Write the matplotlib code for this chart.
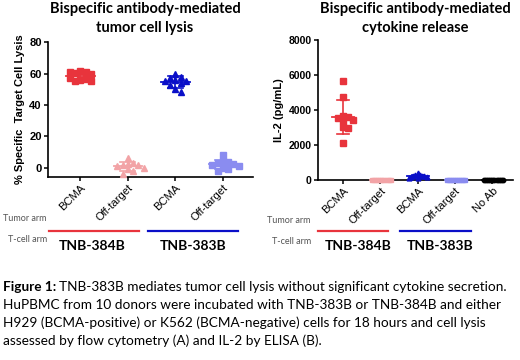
import numpy as np
import matplotlib
matplotlib.use("Agg")
import matplotlib.pyplot as plt
from matplotlib.lines import Line2D

plt.rcParams["font.family"] = ["Liberation Sans", "DejaVu Sans"]

# ---- data ----
lysis_labels = ["BCMA", "Off-target", "BCMA", "Off-target"]
lysis_384_bcma = [61.5, 61, 60.5, 60, 61, 56, 56.5, 55.5, 57, 55]
lysis_384_off = [6, 3, 2.5, 2, 1.5, 1, 0, -1, -2, -4]
lysis_383_bcma = [60, 58, 57, 56, 55.5, 55, 54, 53, 50, 48]
lysis_383_off = [8, 4, 3.5, 3, 2.5, 2, 1, 0, -1, -2]

il2_labels = ["BCMA", "Off-target", "BCMA", "Off-target", "No Ab"]
il2_384_bcma = [5670, 4760, 3650, 3600, 3550, 3450, 3350, 3000, 2950, 2130]
il2_384_off = [10, 5, 0, 0, 0, 0, 0, 5, 10, 0]
il2_383_bcma = [380, 300, 260, 240, 220, 200, 180, 160, 140, 120]
il2_383_off = [20, 15, 10, 10, 5, 5, 0, 0, 0, 0]
il2_noab = [0, 0, 0, 0, 0, 0, 0, 0, 0, 0]

RED = "#E8343C"
PINK = "#F2A3A6"
BLUE = "#0A0FC8"
LBLUE = "#8A8CF0"


def swarm(vals, ytol, step):
    """simple beeswarm offsets so points don't sit on top of each other"""
    placed = []
    offs = []
    for v in vals:
        k = 0
        while True:
            o = ((k + 1) // 2) * step * (1 if k % 2 else -1)
            if all(abs(v - pv) >= ytol or abs(o - po) >= step * 0.9 for pv, po in placed):
                break
            k += 1
        placed.append((v, o))
        offs.append(o)
    return np.array(offs)


def draw_group(ax, x, vals, color, marker, ytol, step, ms, wmean, wsd):
    vals = np.array(vals, dtype=float)
    xs = x + swarm(vals, ytol, step)
    ax.plot(xs, vals, ls="none", marker=marker, color=color, ms=ms,
            mec=color, clip_on=False, zorder=3)
    m = vals.mean()
    sd = vals.std(ddof=1)
    ax.plot([x - wmean, x + wmean], [m, m], color=color, lw=1.3, zorder=4, clip_on=False)
    ax.plot([x, x], [m - sd, m + sd], color=color, lw=1.2, zorder=4, clip_on=False)
    for yy in (m - sd, m + sd):
        ax.plot([x - wsd, x + wsd], [yy, yy], color=color, lw=1.2, zorder=4, clip_on=False)


def style_axes(ax, ysize):
    for s in ("top", "right"):
        ax.spines[s].set_visible(False)
    for s in ("left", "bottom"):
        ax.spines[s].set_linewidth(1.2)
    ax.tick_params(axis="y", labelsize=ysize, width=1.1, length=3, pad=1.5)
    ax.tick_params(axis="x", labelsize=8, width=1.1, length=3, pad=1)
    for t in ax.get_yticklabels():
        t.set_fontweight("bold")


fig = plt.figure(figsize=(5.2, 3.6), dpi=100)

# ---- panel A: lysis ----
ax1 = fig.add_axes([0.0923, 0.508, 0.394, 0.375])
draw_group(ax1, 0, lysis_384_bcma, RED, "s", 3.2, 0.11, 4.2, 0.3, 0.16)
draw_group(ax1, 1, lysis_384_off, PINK, "^", 3.2, 0.11, 4.2, 0.3, 0.16)
draw_group(ax1, 2, lysis_383_bcma, BLUE, "^", 3.2, 0.11, 4.2, 0.3, 0.16)
draw_group(ax1, 3, lysis_383_off, LBLUE, "s", 3.2, 0.11, 4.2, 0.3, 0.16)
ax1.set_xlim(-0.68, 3.63)
ax1.set_ylim(-6, 80)
ax1.set_yticks([0, 20, 40, 60, 80])
ax1.set_xticks(range(len(lysis_labels)))
ax1.set_xticklabels(lysis_labels, rotation=45, ha="right", rotation_mode="anchor")
ax1.set_ylabel("% Specific  Target Cell Lysis", fontsize=8, fontweight="bold", labelpad=3)
style_axes(ax1, 8)

# ---- panel B: IL-2 ----
ax2 = fig.add_axes([0.6115, 0.5, 0.375, 0.389])
draw_group(ax2, 0, il2_384_bcma, RED, "s", 260, 0.13, 4.5, 0.3, 0.16)
draw_group(ax2, 1, il2_384_off, PINK, "s", 260, 0.055, 3, 0.28, 0.14)
draw_group(ax2, 2, il2_383_bcma, BLUE, "^", 260, 0.06, 3.5, 0.3, 0.16)
draw_group(ax2, 3, il2_383_off, LBLUE, "s", 260, 0.055, 3.2, 0.28, 0.14)
draw_group(ax2, 4, il2_noab, "black", "o", 260, 0.055, 3.2, 0.28, 0.14)
ax2.set_xlim(-0.67, 4.55)
ax2.set_ylim(0, 8000)
ax2.set_yticks([0, 2000, 4000, 6000, 8000])
ax2.set_xticks(range(len(il2_labels)))
ax2.set_xticklabels(il2_labels, rotation=45, ha="right", rotation_mode="anchor")
ax2.set_ylabel("IL-2 (pg/mL)", fontsize=8, fontweight="bold", labelpad=3)
style_axes(ax2, 7.5)

# ---- titles ----
title_font = ["Lato", "DejaVu Sans"]
fig.text(145 / 520, 1 - 13 / 360, "Bispecific antibody-mediated", family=title_font,
         fontsize=10.5, fontweight="bold", ha="center", va="baseline")
fig.text(145 / 520, 1 - 32 / 360, "tumor cell lysis", family=title_font,
         fontsize=10.5, fontweight="bold", ha="center", va="baseline")
fig.text(415 / 520, 1 - 13 / 360, "Bispecific antibody-mediated", family=title_font,
         fontsize=10.5, fontweight="bold", ha="center", va="baseline")
fig.text(415 / 520, 1 - 32 / 360, "cytokine release", family=title_font,
         fontsize=10.5, fontweight="bold", ha="center", va="baseline")

# ---- arm annotations under the panels ----
arm_color = "#555555"
arm_font = ["Lato", "DejaVu Sans"]
fig.text(3 / 520, 1 - 219 / 360, "Tumor arm", fontsize=6.5, color=arm_color, va="center",
         family=arm_font)
fig.text(8 / 520, 1 - 240 / 360, "T-cell arm", fontsize=6.5, color=arm_color, va="center",
         family=arm_font)
fig.text(267 / 520, 1 - 220 / 360, "Tumor arm", fontsize=6.5, color=arm_color, va="center",
         family=arm_font)
fig.text(272 / 520, 1 - 242 / 360, "T-cell arm", fontsize=6.5, color=arm_color, va="center",
         family=arm_font)

groups = [
    (49, 139, 92, RED, "TNB-384B"),
    (148, 238, 193, BLUE, "TNB-383B"),
    (318, 388, 358, RED, "TNB-384B"),
    (400, 471, 440, BLUE, "TNB-383B"),
]
for x0, x1, xc, c, lab in groups:
    fig.add_artist(Line2D([x0 / 520, x1 / 520], [1 - 231 / 360] * 2, color=c, lw=1.6))
    fig.text(xc / 520, 1 - 246 / 360, lab, fontsize=10, fontweight="bold",
             ha="center", va="center", family=arm_font)

# ---- caption ----
cap_font = ["Lato", "DejaVu Sans"]
cap_size = 9.85
caption = [
    "HuPBMC from 10 donors were incubated with TNB-383B or TNB-384B and either",
    "H929 (BCMA-positive) or K562 (BCMA-negative) cells for 18 hours and cell lysis",
    "assessed by flow cytometry (A) and IL-2 by ELISA (B).",
]
head = fig.text(3 / 520, 1 - 287 / 360, "Figure 1:", fontsize=cap_size, va="center",
                family=cap_font, fontweight="bold")
fig.canvas.draw()
bb = head.get_window_extent().transformed(fig.transFigure.inverted())
fig.text(bb.x1 + 3 / 520, 1 - 287 / 360,
         "TNB-383B mediates tumor cell lysis without significant cytokine secretion.",
         fontsize=cap_size, va="center", family=cap_font)
for i, line in enumerate(caption):
    fig.text(3 / 520, 1 - (305 + 17.7 * i) / 360, line, fontsize=cap_size, va="center",
             family=cap_font)

fig.savefig("out.png", dpi=100)
